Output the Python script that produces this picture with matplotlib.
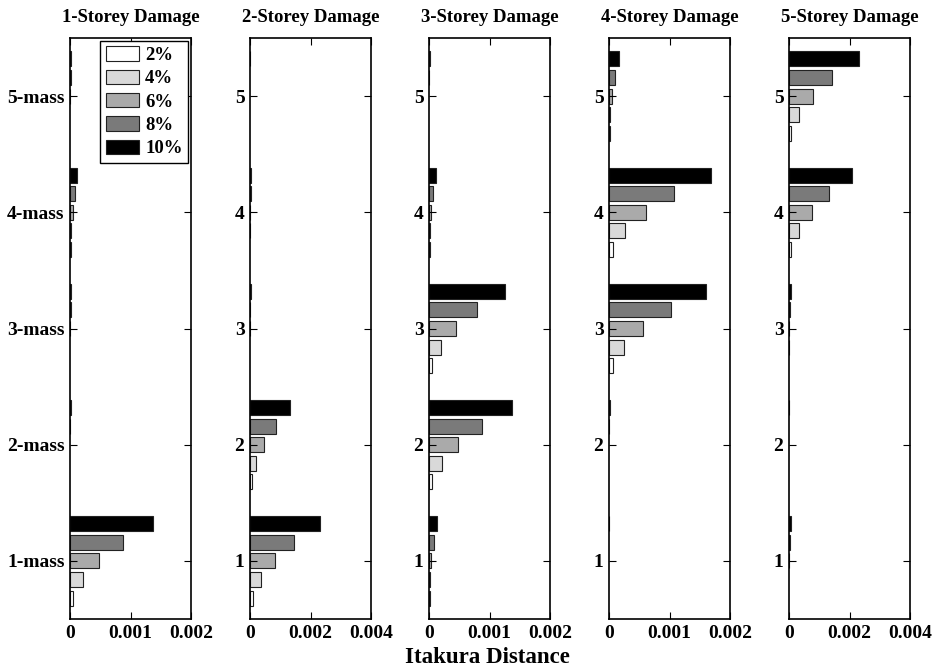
import matplotlib
matplotlib.use("Agg")
import matplotlib.pyplot as plt
import numpy as np

plt.rcParams['font.family'] = ['Liberation Serif', 'DejaVu Serif']
plt.rcParams['font.weight'] = 'bold'

# damage levels (one series per level) and colours
levels = ['2%', '4%', '6%', '8%', '10%']
colors = ['#ffffff', '#d9d9d9', '#aaaaaa', '#7a7a7a', '#000000']

titles = ['1-Storey Damage', '2-Storey Damage', '3-Storey Damage',
          '4-Storey Damage', '5-Storey Damage']
masses = [1, 2, 3, 4, 5]

# Itakura distance, rows = mass 1..5, cols = damage level 2%..10%
dist_1 = [[0.00005, 0.00021, 0.00048, 0.00087, 0.00138],
          [0.0, 0.0, 0.0, 0.000005, 0.00001],
          [0.0, 0.0, 0.000005, 0.00001, 0.00002],
          [0.00001, 0.00002, 0.00005, 0.00009, 0.00012],
          [0.0, 0.0, 0.000005, 0.00001, 0.00002]]
dist_2 = [[0.00009, 0.00038, 0.00082, 0.00147, 0.00232],
          [0.00005, 0.0002, 0.00046, 0.00086, 0.00133],
          [0.0, 0.0, 0.00001, 0.00001, 0.00002],
          [0.0, 0.00001, 0.00001, 0.00002, 0.00003],
          [0.0, 0.0, 0.0, 0.0, 0.00001]]
dist_3 = [[0.00001, 0.00002, 0.00004, 0.00008, 0.00014],
          [0.00005, 0.00021, 0.00048, 0.00087, 0.00138],
          [0.00005, 0.0002, 0.00045, 0.0008, 0.00125],
          [0.00001, 0.00002, 0.00004, 0.00007, 0.00011],
          [0.0, 0.0, 0.0, 0.000005, 0.00001]]
dist_4 = [[0.0, 0.0, 0.0, 0.0, 0.000005],
          [0.0, 0.0, 0.0, 0.000005, 0.00001],
          [0.00006, 0.00025, 0.00057, 0.00102, 0.0016],
          [0.00006, 0.00026, 0.00061, 0.00108, 0.00168],
          [0.00001, 0.00002, 0.00005, 0.0001, 0.00017]]
dist_5 = [[0.0, 0.0, 0.00001, 0.00003, 0.00006],
          [0.0, 0.0, 0.0, 0.0, 0.00001],
          [0.0, 0.00001, 0.00001, 0.00003, 0.00006],
          [0.00008, 0.00033, 0.00076, 0.00133, 0.00208],
          [0.00008, 0.00033, 0.00078, 0.00142, 0.0023]]
data = [dist_1, dist_2, dist_3, dist_4, dist_5]
xmax = [0.002, 0.004, 0.002, 0.002, 0.004]

fig = plt.figure(figsize=(9.34, 6.7), dpi=100)
W, H = 934.0, 670.0
lefts = [70, 250, 429, 609, 789]
bottom, top = 619, 38

slot = 0.16
bh = 0.8 * slot
for k in range(5):
    ax = fig.add_axes([lefts[k] / W, 1 - bottom / H, 121 / W, (bottom - top) / H])
    vals = np.array(data[k])
    y = np.array(masses, dtype=float)
    for j in range(5):
        off = (j - 2) * slot
        v = vals[:, j]
        # skip empty bars so no edge line is drawn at zero
        keep = v > 0
        ax.barh(y[keep] + off, v[keep], height=bh, color=colors[j],
                edgecolor='#222222', linewidth=0.8, label=levels[j])
    ax.set_xlim(0, xmax[k])
    ax.set_ylim(0.5, 5.5)
    ax.set_xticks([0, xmax[k] / 2, xmax[k]])
    ax.set_xticklabels(['0', '%g' % (xmax[k] / 2), '%g' % xmax[k]])
    ax.set_yticks(masses)
    if k == 0:
        ax.set_yticklabels(['%d-mass' % m for m in masses])
    else:
        ax.set_yticklabels([str(m) for m in masses])
    ax.tick_params(direction='in', top=True, right=True, length=5,
                   width=0.8, labelsize=14, pad=4)
    for s in ax.spines.values():
        s.set_linewidth(1.2)
    ax.set_title(titles[k], fontsize=13.5, fontweight='bold', pad=11.5)
    if k == 0:
        ax.legend(loc='upper right', fontsize=13.5, frameon=True,
                  fancybox=False, edgecolor='black', framealpha=1,
                  borderaxespad=0.15, handlelength=1.8, handleheight=0.8,
                  labelspacing=0.3, handletextpad=0.3, borderpad=0.3)
        ax.get_legend().get_frame().set_linewidth(1.0)

fig.text(0.522, 0.0104, 'Itakura Distance', ha='center', va='baseline',
         fontsize=16.5, fontweight='bold')

fig.savefig('out.png', dpi=100)
